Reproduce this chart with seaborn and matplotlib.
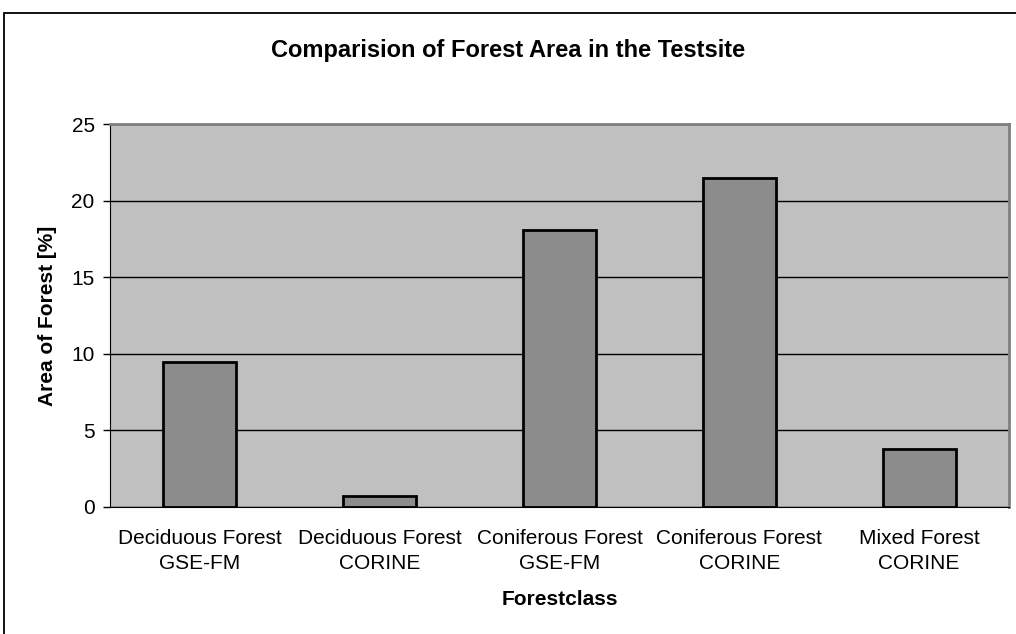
import matplotlib
matplotlib.use("Agg")
import matplotlib.pyplot as plt
import seaborn as sns
import pandas as pd
from matplotlib.patches import Rectangle

# values
classes = ['Deciduous Forest\nGSE-FM', 'Deciduous Forest\nCORINE',
           'Coniferous Forest\nGSE-FM', 'Coniferous Forest\nCORINE',
           'Mixed Forest\nCORINE']
area = [9.45, 0.75, 18.05, 21.45, 3.8]
yticks = [0, 5, 10, 15, 20, 25]

df = pd.DataFrame({'Forestclass': classes, 'Area': area})

sns.set_style('white')
plt.rcParams['font.family'] = ['Liberation Sans', 'DejaVu Sans']
plt.rcParams['text.color'] = 'black'
plt.rcParams['axes.labelcolor'] = 'black'
plt.rcParams['xtick.color'] = 'black'
plt.rcParams['ytick.color'] = 'black'

fig = plt.figure(figsize=(10.16, 6.34), dpi=100)
ax = fig.add_axes([110 / 1016, 1 - 507 / 634, 899 / 1016, 383 / 634])
ax.set_facecolor('#c0c0c0')

sns.barplot(data=df, x='Forestclass', y='Area', color='#8c8c8c', width=0.405,
            edgecolor='black', linewidth=2, saturation=1, ax=ax)

ax.set_ylim(0, 25)
ax.set_xlim(-0.5, len(classes) - 0.5)
ax.set_yticks(yticks)
ax.yaxis.grid(True, color='black', linewidth=1)
ax.set_axisbelow(True)
for bar in ax.patches:
    bar.set_zorder(3)

# x ticks sit on category boundaries, labels in between
ax.set_xticks([i - 0.5 for i in range(len(classes) + 1)], minor=True)
ax.tick_params(axis='x', which='major', length=0, pad=16, labelsize=15)
ax.tick_params(axis='x', which='minor', length=5, width=1, direction='out')
ax.tick_params(axis='y', length=5, width=1, direction='out', pad=6, labelsize=15, left=True)
for lbl in ax.get_xticklabels():
    lbl.set_linespacing(1.4)

for side in ['top', 'right']:
    ax.spines[side].set_color('#808080')
    ax.spines[side].set_linewidth(2)
ax.spines['left'].set_color('black')
ax.spines['bottom'].set_color('black')

ax.set_xlabel('Forestclass', fontsize=15, fontweight='bold', labelpad=12)
ax.set_ylabel('Area of Forest [%]', fontsize=15, fontweight='bold', labelpad=10)
fig.text(0.5, 1 - 51 / 634, 'Comparision of Forest Area in the Testsite',
         ha='center', va='center', fontsize=17, fontweight='bold')

# outer chart frame
fig.patches.append(Rectangle((4 / 1016, -0.1), 1.2, 1 - 13 / 634 + 0.1,
                             transform=fig.transFigure, fill=False,
                             edgecolor='black', linewidth=1.3))

fig.savefig('out.png', dpi=100)
